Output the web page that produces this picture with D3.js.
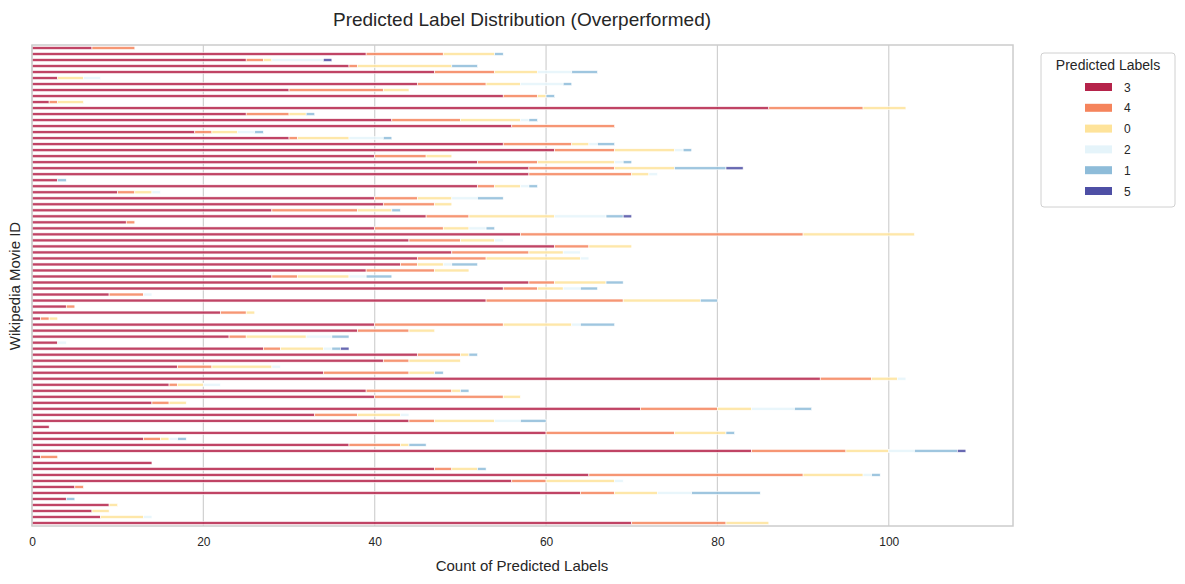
<!DOCTYPE html>
<html><head><meta charset="utf-8">
<script src="https://cdn.jsdelivr.net/npm/d3@7"></script>
<style>body{margin:0;background:#fff;font-family:Arial,"Liberation Sans",sans-serif}</style>
</head><body><svg id="c" width="1185" height="584"></svg>
<script>
const labels = ["3","4","0","2","1","5"];
const colors = ["#b5234a","#f5845c","#fee39a","#e5f4fa","#8ebcd9","#4e4fa5"];
const v3 = [7,39,25,37,47,3,45,30,55,2,86,25,42,56,19,30,55,61,40,52,58,58,3,52,10,40,41,28,46,11,40,57,44,61,49,45,43,39,28,58,55,9,53,4,22,1,40,38,23,3,27,45,41,17,34,92,16,39,40,14,71,33,44,2,60,13,37,84,1,14,47,65,56,5,64,4,9,7,8,70];
const v4 = [5,9,2,1,7,0,8,11,4,1,11,5,8,12,2,1,8,7,6,7,10,12,0,2,2,5,6,10,5,1,8,33,6,4,9,8,2,8,3,3,4,4,16,1,3,1,15,6,2,0,2,5,3,4,10,6,1,10,15,2,9,5,3,0,15,2,6,11,2,0,2,25,4,1,4,0,0,0,0,11];
const v0 = [0,6,1,11,5,3,4,3,1,3,5,2,7,0,3,6,2,7,3,9,7,2,0,3,2,4,2,4,10,0,3,13,4,5,4,11,3,4,6,6,3,0,9,0,1,1,8,3,7,0,5,1,6,7,3,3,3,1,2,2,4,5,7,0,6,1,1,5,0,0,3,7,8,0,5,0,1,2,5,5];
const v2 = [0,0,6,0,4,2,5,0,0,0,0,0,1,0,2,4,1,1,0,1,0,1,0,1,1,3,0,0,6,0,2,0,1,0,2,1,1,0,2,0,2,1,0,0,0,0,1,0,3,1,1,0,0,1,0,1,2,0,0,0,5,1,3,0,0,1,0,3,0,0,0,1,1,0,4,0,0,0,1,0];
const v1 = [0,1,0,3,3,0,1,0,1,0,0,1,1,0,1,1,2,1,0,1,6,0,1,1,0,3,0,1,2,0,1,0,0,0,0,0,3,0,3,2,2,0,2,0,0,0,4,0,2,0,1,1,0,0,1,0,0,1,0,0,2,0,3,0,1,1,2,5,0,0,1,1,0,0,8,1,0,0,0,0];
const v5 = [0,0,1,0,0,0,0,0,0,0,0,0,0,0,0,0,0,0,0,0,2,0,0,0,0,0,0,0,1,0,0,0,0,0,0,0,0,0,0,0,0,0,0,0,0,0,0,0,0,0,1,0,0,0,0,0,0,0,0,0,0,0,0,0,0,0,0,1,0,0,0,0,0,0,0,0,0,0,0,0];
const xTicks = [0,20,40,60,80,100];
const series = [v3,v4,v0,v2,v1,v5];
const rows = v3.map((_,i)=>{const o={id:i}; labels.forEach((l,j)=>o[l]=series[j][i]); return o;});

const svg = d3.select("#c");
const L=32,R=1013,T=45,B=526;
const x = d3.scaleLinear().domain([0,114.5]).range([L,R]);
const y = d3.scaleBand().domain(rows.map(d=>d.id)).range([T,B]).paddingInner(0.5).paddingOuter(0.25);

svg.append("g").selectAll("line").data(xTicks).join("line")
  .attr("x1",d=>x(d)).attr("x2",d=>x(d)).attr("y1",T).attr("y2",B)
  .attr("stroke","#d0d0d0").attr("stroke-width",1.2);

const stack = d3.stack().keys(labels)(rows);
svg.append("g").selectAll("g").data(stack).join("g")
  .attr("fill",(d,i)=>colors[i]).attr("fill-opacity",0.85)
  .selectAll("rect").data(d=>d.filter(s=>s[1]>s[0])).join("rect")
  .attr("x",d=>x(d[0])).attr("width",d=>x(d[1])-x(d[0]))
  .attr("y",d=>y(d.data.id)).attr("height",y.bandwidth())
  .attr("stroke","#fff").attr("stroke-width",0.6);

svg.append("rect").attr("x",L).attr("y",T).attr("width",R-L).attr("height",B-T)
  .attr("fill","none").attr("stroke","#cccccc").attr("stroke-width",1.5);

const ax = svg.append("g").attr("transform",`translate(0,${B})`)
  .call(d3.axisBottom(x).tickValues(xTicks).tickSize(0).tickPadding(11));
ax.select(".domain").remove();
ax.selectAll("text").attr("font-size",12).attr("fill","#262626").attr("font-family","Arial,Liberation Sans,sans-serif");

svg.append("text").attr("x",522).attr("y",26).attr("text-anchor","middle")
  .attr("font-size",19).attr("fill","#262626").text("Predicted Label Distribution (Overperformed)");
svg.append("text").attr("x",522).attr("y",571).attr("text-anchor","middle")
  .attr("font-size",15).attr("fill","#262626").text("Count of Predicted Labels");
svg.append("text").attr("transform","translate(20,286) rotate(-90)").attr("text-anchor","middle")
  .attr("font-size",15).attr("fill","#262626").text("Wikipedia Movie ID");

const lg = svg.append("g");
lg.append("rect").attr("x",1041).attr("y",53).attr("width",134).attr("height",154)
  .attr("rx",3).attr("fill","#fff").attr("stroke","#d0d0d0");
lg.append("text").attr("x",1108).attr("y",70).attr("text-anchor","middle")
  .attr("font-size",14).attr("fill","#262626").text("Predicted Labels");
labels.forEach((l,i)=>{
  const yy=87+i*20.8;
  lg.append("rect").attr("x",1085).attr("y",yy-4).attr("width",27).attr("height",8).attr("fill",colors[i]);
  lg.append("text").attr("x",1124).attr("y",yy+4.5).attr("font-size",12).attr("fill","#262626").text(l);
});
</script></body></html>
